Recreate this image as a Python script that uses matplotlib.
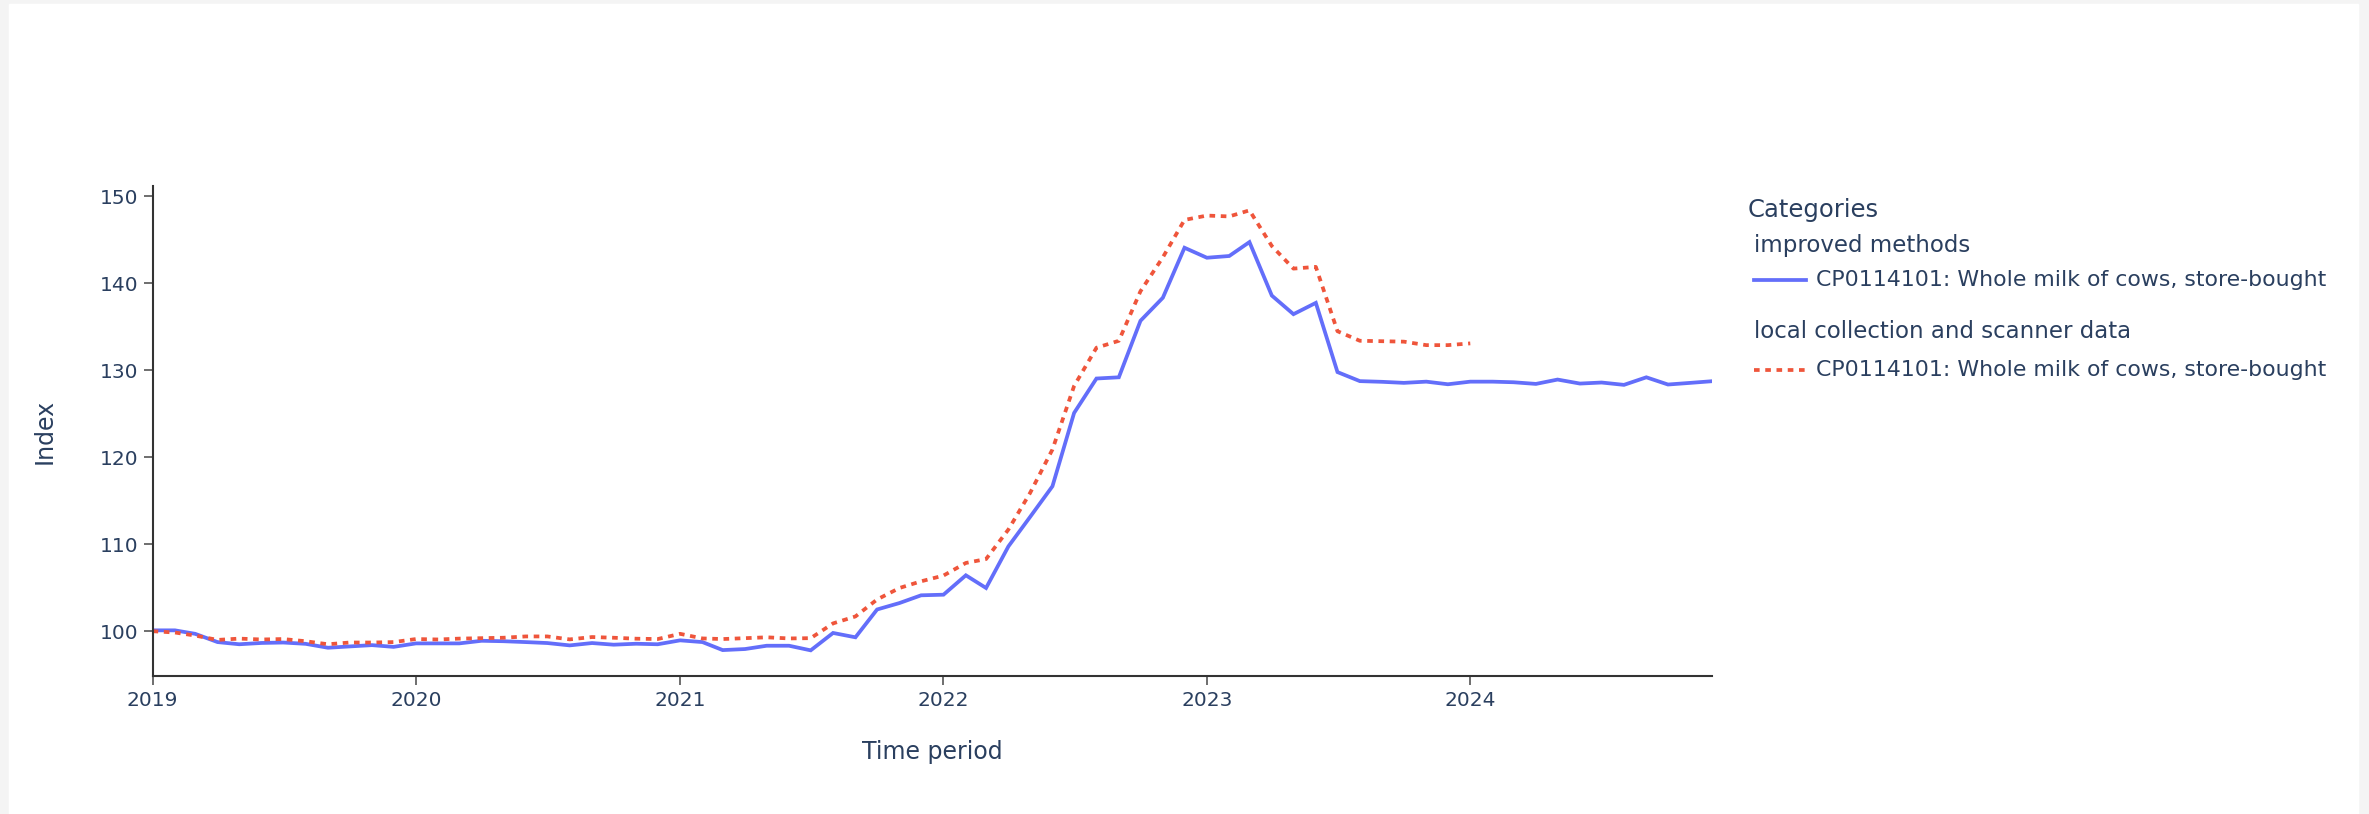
import matplotlib
matplotlib.use("Agg")
import matplotlib.pyplot as plt
import matplotlib.dates as mdates
from matplotlib.lines import Line2D
import pandas as pd

# monthly index values
months_improved = pd.date_range("2019-01-01", periods=72, freq="MS")
improved = [
    100.1, 100.1, 99.7, 98.75, 98.5, 98.65, 98.7, 98.55, 98.1, 98.25, 98.4, 98.2,
    98.6, 98.6, 98.6, 98.9, 98.85, 98.75, 98.64, 98.37, 98.64, 98.45, 98.56, 98.5,
    98.95, 98.75, 97.83, 97.95, 98.33, 98.33, 97.8, 99.8, 99.3, 102.5, 103.24, 104.13,
    104.2, 106.43, 104.97, 109.76, 113.14, 116.67, 125.1, 129.06, 129.2, 135.7, 138.35, 144.1,
    142.95, 143.15, 144.75, 138.6, 136.46, 137.76, 129.8, 128.76, 128.68, 128.56, 128.7, 128.4,
    128.7, 128.7, 128.63, 128.44, 128.94, 128.48, 128.6, 128.33, 129.2, 128.37, 128.56, 128.75,
]
months_local = pd.date_range("2019-01-01", periods=61, freq="MS")
local = [
    100.0, 99.85, 99.5, 99.0, 99.15, 99.05, 99.1, 98.85, 98.5, 98.7, 98.7, 98.75,
    99.1, 99.05, 99.15, 99.2, 99.25, 99.4, 99.4, 99.06, 99.33, 99.25, 99.14, 99.1,
    99.7, 99.17, 99.1, 99.2, 99.3, 99.17, 99.2, 100.9, 101.7, 103.65, 104.97, 105.74,
    106.4, 107.85, 108.3, 111.7, 115.9, 120.9, 128.2, 132.6, 133.4, 139.1, 143.0, 147.3,
    147.8, 147.7, 148.4, 144.3, 141.7, 141.9, 134.5, 133.4, 133.35, 133.3, 132.9, 132.9,
    133.1,
]
item_label = "CP0114101: Whole milk of cows, store-bought"
group_labels = ["improved methods", "local collection and scanner data"]

BLUE = "#636efa"
RED = "#ef553b"
TXT = "#2a3f5f"
plt.rcParams["font.family"] = ["DejaVu Sans"]

W, H = 2369, 814
fig = plt.figure(figsize=(W / 100, H / 100), dpi=100)
fig.patch.set_facecolor("#f4f4f4")
# white page area inside the grey frame
fig.patches.append(plt.Rectangle((9 / W, 0), (2358 - 9) / W, (814 - 4) / H,
                                 transform=fig.transFigure, color="white", zorder=-5))

ax = fig.add_axes([152.6 / W, 1 - 676 / H, (1712 - 152.6) / W, (676 - 186) / H])
ax.set_facecolor("white")

lw = 2.7
dots = (0, (1.5, 1.5))
ax.plot(months_improved, improved, color=BLUE, lw=lw, solid_joinstyle="miter")
ax.plot(months_local, local, color=RED, lw=lw, linestyle=dots, dash_capstyle="butt")

ax.set_xlim(months_improved[0], months_improved[-1])
ax.set_ylim(94.85, 151.2)
ax.set_yticks([100, 110, 120, 130, 140, 150])
ax.xaxis.set_major_locator(mdates.YearLocator())
ax.xaxis.set_major_formatter(mdates.DateFormatter("%Y"))

for s in ("top", "right"):
    ax.spines[s].set_visible(False)
for s in ("left", "bottom"):
    ax.spines[s].set_color("#333333")
    ax.spines[s].set_linewidth(1.5)
ax.tick_params(length=6.5, width=1.2, color="#555555", labelcolor=TXT,
               labelsize=14.5, pad=4)

ax.set_xlabel("Time period", fontsize=17, color=TXT, labelpad=22)
ax.set_ylabel("Index", fontsize=17, color=TXT, labelpad=31)

# grouped legend, drawn by hand to mirror the grouped layout
def fx(px):
    return px / W

def fy(py):
    return 1 - py / H

fig.text(fx(1748), fy(210), "Categories", fontsize=17.5, color=TXT, va="center")
rows = [(245, 280, group_labels[0], BLUE, "-"), (331, 370, group_labels[1], RED, dots)]
for gy, iy, glab, col, ls in rows:
    fig.text(fx(1754), fy(gy), glab, fontsize=16.5, color=TXT, va="center")
    fig.add_artist(Line2D([fx(1754), fx(1806)], [fy(iy), fy(iy)], color=col, lw=lw,
                          linestyle=ls, dash_capstyle="butt", transform=fig.transFigure))
    fig.text(fx(1816), fy(iy), item_label, fontsize=15.8, color=TXT, va="center")

fig.savefig("out.png", dpi=100, facecolor=fig.get_facecolor())
